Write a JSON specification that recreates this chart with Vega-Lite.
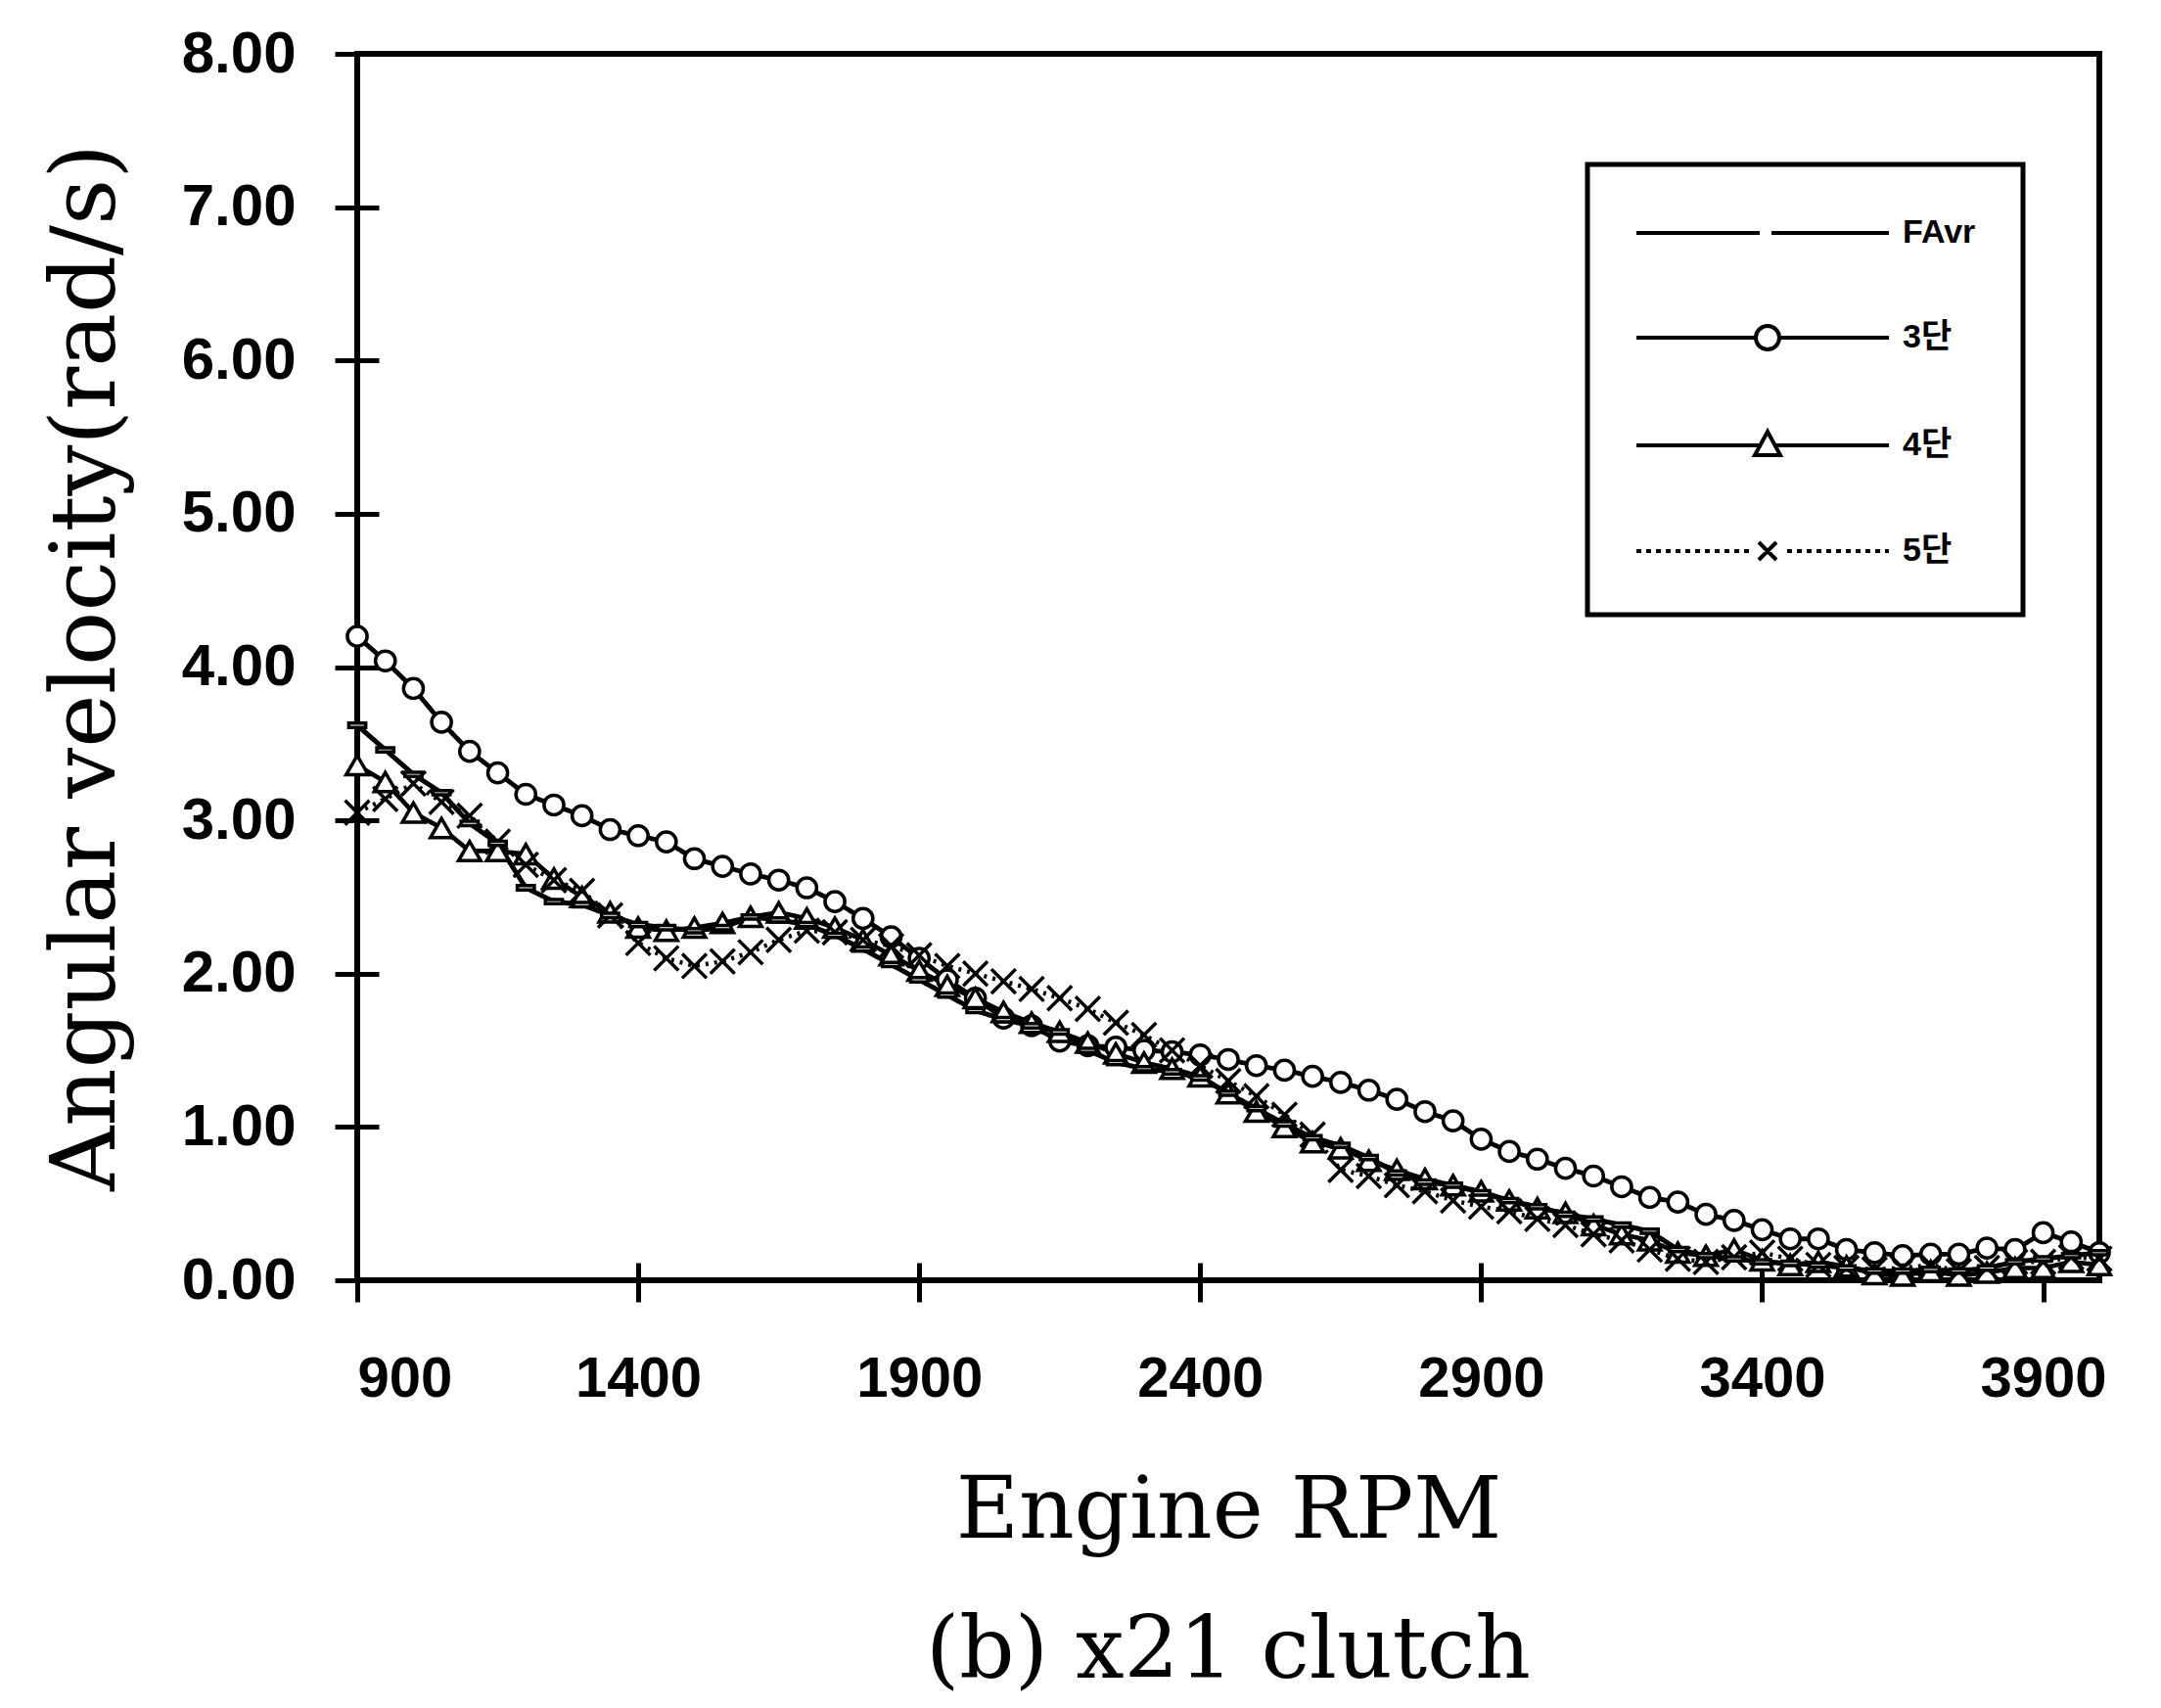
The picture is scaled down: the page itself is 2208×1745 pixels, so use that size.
{
  "$schema": "https://vega.github.io/schema/vega-lite/v6.json",
  "autosize": {"type": "none"},
  "width": 1780,
  "height": 1253,
  "padding": {"left": 365, "top": 55, "right": 63, "bottom": 437},
  "background": "white",
  "title": {"text": "(b) x21 clutch", "orient": "bottom", "font": "DejaVu Serif", "fontSize": 88, "fontWeight": "normal", "color": "black", "offset": 56},
  "config": {"view": {"stroke": "black", "strokeWidth": 6}, "legend": {"strokeWidth": 5}},
  "data": {"values": [
    {"series":"3단","rpm":900,"omega":4.20},{"series":"3단","rpm":950,"omega":4.04},{"series":"3단","rpm":1000,"omega":3.86},{"series":"3단","rpm":1050,"omega":3.64},{"series":"3단","rpm":1100,"omega":3.45},{"series":"3단","rpm":1150,"omega":3.31},{"series":"3단","rpm":1200,"omega":3.17},{"series":"3단","rpm":1250,"omega":3.10},{"series":"3단","rpm":1300,"omega":3.03},{"series":"3단","rpm":1350,"omega":2.94},{"series":"3단","rpm":1400,"omega":2.90},{"series":"3단","rpm":1450,"omega":2.86},{"series":"3단","rpm":1500,"omega":2.75},{"series":"3단","rpm":1550,"omega":2.70},{"series":"3단","rpm":1600,"omega":2.65},{"series":"3단","rpm":1650,"omega":2.61},{"series":"3단","rpm":1700,"omega":2.56},{"series":"3단","rpm":1750,"omega":2.47},{"series":"3단","rpm":1800,"omega":2.36},{"series":"3단","rpm":1850,"omega":2.24},{"series":"3단","rpm":1900,"omega":2.10},{"series":"3단","rpm":1950,"omega":1.96},{"series":"3단","rpm":2000,"omega":1.84},{"series":"3단","rpm":2050,"omega":1.71},{"series":"3단","rpm":2100,"omega":1.66},{"series":"3단","rpm":2150,"omega":1.56},{"series":"3단","rpm":2200,"omega":1.53},{"series":"3단","rpm":2250,"omega":1.52},{"series":"3단","rpm":2300,"omega":1.50},{"series":"3단","rpm":2350,"omega":1.49},{"series":"3단","rpm":2400,"omega":1.47},{"series":"3단","rpm":2450,"omega":1.44},{"series":"3단","rpm":2500,"omega":1.40},{"series":"3단","rpm":2550,"omega":1.37},{"series":"3단","rpm":2600,"omega":1.33},{"series":"3단","rpm":2650,"omega":1.29},{"series":"3단","rpm":2700,"omega":1.24},{"series":"3단","rpm":2750,"omega":1.18},{"series":"3단","rpm":2800,"omega":1.10},{"series":"3단","rpm":2850,"omega":1.04},{"series":"3단","rpm":2900,"omega":0.92},{"series":"3단","rpm":2950,"omega":0.84},{"series":"3단","rpm":3000,"omega":0.79},{"series":"3단","rpm":3050,"omega":0.73},{"series":"3단","rpm":3100,"omega":0.68},{"series":"3단","rpm":3150,"omega":0.61},{"series":"3단","rpm":3200,"omega":0.54},{"series":"3단","rpm":3250,"omega":0.51},{"series":"3단","rpm":3300,"omega":0.43},{"series":"3단","rpm":3350,"omega":0.39},{"series":"3단","rpm":3400,"omega":0.33},{"series":"3단","rpm":3450,"omega":0.27},{"series":"3단","rpm":3500,"omega":0.27},{"series":"3단","rpm":3550,"omega":0.20},{"series":"3단","rpm":3600,"omega":0.18},{"series":"3단","rpm":3650,"omega":0.16},{"series":"3단","rpm":3700,"omega":0.17},{"series":"3단","rpm":3750,"omega":0.17},{"series":"3단","rpm":3800,"omega":0.21},{"series":"3단","rpm":3850,"omega":0.20},{"series":"3단","rpm":3900,"omega":0.31},{"series":"3단","rpm":3950,"omega":0.25},{"series":"3단","rpm":4000,"omega":0.18},
    {"series":"4단","rpm":900,"omega":3.36},{"series":"4단","rpm":950,"omega":3.25},{"series":"4단","rpm":1000,"omega":3.05},{"series":"4단","rpm":1050,"omega":2.95},{"series":"4단","rpm":1100,"omega":2.80},{"series":"4단","rpm":1150,"omega":2.80},{"series":"4단","rpm":1200,"omega":2.78},{"series":"4단","rpm":1250,"omega":2.62},{"series":"4단","rpm":1300,"omega":2.50},{"series":"4단","rpm":1350,"omega":2.40},{"series":"4단","rpm":1400,"omega":2.30},{"series":"4단","rpm":1450,"omega":2.28},{"series":"4단","rpm":1500,"omega":2.30},{"series":"4단","rpm":1550,"omega":2.33},{"series":"4단","rpm":1600,"omega":2.37},{"series":"4단","rpm":1650,"omega":2.40},{"series":"4단","rpm":1700,"omega":2.36},{"series":"4단","rpm":1750,"omega":2.30},{"series":"4단","rpm":1800,"omega":2.22},{"series":"4단","rpm":1850,"omega":2.12},{"series":"4단","rpm":1900,"omega":2.02},{"series":"4단","rpm":1950,"omega":1.92},{"series":"4단","rpm":2000,"omega":1.84},{"series":"4단","rpm":2050,"omega":1.75},{"series":"4단","rpm":2100,"omega":1.68},{"series":"4단","rpm":2150,"omega":1.62},{"series":"4단","rpm":2200,"omega":1.55},{"series":"4단","rpm":2250,"omega":1.48},{"series":"4단","rpm":2300,"omega":1.42},{"series":"4단","rpm":2350,"omega":1.38},{"series":"4단","rpm":2400,"omega":1.33},{"series":"4단","rpm":2450,"omega":1.22},{"series":"4단","rpm":2500,"omega":1.10},{"series":"4단","rpm":2550,"omega":1.00},{"series":"4단","rpm":2600,"omega":0.90},{"series":"4단","rpm":2650,"omega":0.86},{"series":"4단","rpm":2700,"omega":0.78},{"series":"4단","rpm":2750,"omega":0.72},{"series":"4단","rpm":2800,"omega":0.66},{"series":"4단","rpm":2850,"omega":0.62},{"series":"4단","rpm":2900,"omega":0.58},{"series":"4단","rpm":2950,"omega":0.52},{"series":"4단","rpm":3000,"omega":0.47},{"series":"4단","rpm":3050,"omega":0.44},{"series":"4단","rpm":3100,"omega":0.36},{"series":"4단","rpm":3150,"omega":0.30},{"series":"4단","rpm":3200,"omega":0.26},{"series":"4단","rpm":3250,"omega":0.18},{"series":"4단","rpm":3300,"omega":0.16},{"series":"4단","rpm":3350,"omega":0.20},{"series":"4단","rpm":3400,"omega":0.13},{"series":"4단","rpm":3450,"omega":0.10},{"series":"4단","rpm":3500,"omega":0.12},{"series":"4단","rpm":3550,"omega":0.09},{"series":"4단","rpm":3600,"omega":0.04},{"series":"4단","rpm":3650,"omega":0.03},{"series":"4단","rpm":3700,"omega":0.06},{"series":"4단","rpm":3750,"omega":0.03},{"series":"4단","rpm":3800,"omega":0.05},{"series":"4단","rpm":3850,"omega":0.08},{"series":"4단","rpm":3900,"omega":0.08},{"series":"4단","rpm":3950,"omega":0.12},{"series":"4단","rpm":4000,"omega":0.10},
    {"series":"5단","rpm":900,"omega":3.05},{"series":"5단","rpm":950,"omega":3.14},{"series":"5단","rpm":1000,"omega":3.24},{"series":"5단","rpm":1050,"omega":3.12},{"series":"5단","rpm":1100,"omega":3.03},{"series":"5단","rpm":1150,"omega":2.86},{"series":"5단","rpm":1200,"omega":2.71},{"series":"5단","rpm":1250,"omega":2.61},{"series":"5단","rpm":1300,"omega":2.54},{"series":"5단","rpm":1350,"omega":2.38},{"series":"5단","rpm":1400,"omega":2.20},{"series":"5단","rpm":1450,"omega":2.10},{"series":"5단","rpm":1500,"omega":2.05},{"series":"5단","rpm":1550,"omega":2.08},{"series":"5단","rpm":1600,"omega":2.14},{"series":"5단","rpm":1650,"omega":2.22},{"series":"5단","rpm":1700,"omega":2.28},{"series":"5단","rpm":1750,"omega":2.27},{"series":"5단","rpm":1800,"omega":2.22},{"series":"5단","rpm":1850,"omega":2.18},{"series":"5단","rpm":1900,"omega":2.12},{"series":"5단","rpm":1950,"omega":2.05},{"series":"5단","rpm":2000,"omega":2.00},{"series":"5단","rpm":2050,"omega":1.95},{"series":"5단","rpm":2100,"omega":1.90},{"series":"5단","rpm":2150,"omega":1.84},{"series":"5단","rpm":2200,"omega":1.77},{"series":"5단","rpm":2250,"omega":1.68},{"series":"5단","rpm":2300,"omega":1.60},{"series":"5단","rpm":2350,"omega":1.50},{"series":"5단","rpm":2400,"omega":1.40},{"series":"5단","rpm":2450,"omega":1.30},{"series":"5단","rpm":2500,"omega":1.20},{"series":"5단","rpm":2550,"omega":1.08},{"series":"5단","rpm":2600,"omega":0.95},{"series":"5단","rpm":2650,"omega":0.72},{"series":"5단","rpm":2700,"omega":0.68},{"series":"5단","rpm":2750,"omega":0.62},{"series":"5단","rpm":2800,"omega":0.58},{"series":"5단","rpm":2850,"omega":0.52},{"series":"5단","rpm":2900,"omega":0.48},{"series":"5단","rpm":2950,"omega":0.45},{"series":"5단","rpm":3000,"omega":0.40},{"series":"5단","rpm":3050,"omega":0.36},{"series":"5단","rpm":3100,"omega":0.30},{"series":"5단","rpm":3150,"omega":0.26},{"series":"5단","rpm":3200,"omega":0.20},{"series":"5단","rpm":3250,"omega":0.14},{"series":"5단","rpm":3300,"omega":0.12},{"series":"5단","rpm":3350,"omega":0.15},{"series":"5단","rpm":3400,"omega":0.18},{"series":"5단","rpm":3450,"omega":0.14},{"series":"5단","rpm":3500,"omega":0.10},{"series":"5단","rpm":3550,"omega":0.08},{"series":"5단","rpm":3600,"omega":0.07},{"series":"5단","rpm":3650,"omega":0.08},{"series":"5단","rpm":3700,"omega":0.10},{"series":"5단","rpm":3750,"omega":0.06},{"series":"5단","rpm":3800,"omega":0.08},{"series":"5단","rpm":3850,"omega":0.12},{"series":"5단","rpm":3900,"omega":0.12},{"series":"5단","rpm":3950,"omega":0.15},{"series":"5단","rpm":4000,"omega":0.14},
    {"series":"FAvr","rpm":900,"omega":3.62},{"series":"FAvr","rpm":950,"omega":3.46},{"series":"FAvr","rpm":1000,"omega":3.30},{"series":"FAvr","rpm":1050,"omega":3.18},{"series":"FAvr","rpm":1100,"omega":2.98},{"series":"FAvr","rpm":1150,"omega":2.85},{"series":"FAvr","rpm":1200,"omega":2.56},{"series":"FAvr","rpm":1250,"omega":2.47},{"series":"FAvr","rpm":1300,"omega":2.45},{"series":"FAvr","rpm":1350,"omega":2.38},{"series":"FAvr","rpm":1400,"omega":2.32},{"series":"FAvr","rpm":1450,"omega":2.30},{"series":"FAvr","rpm":1500,"omega":2.28},{"series":"FAvr","rpm":1550,"omega":2.30},{"series":"FAvr","rpm":1600,"omega":2.37},{"series":"FAvr","rpm":1650,"omega":2.35},{"series":"FAvr","rpm":1700,"omega":2.32},{"series":"FAvr","rpm":1750,"omega":2.25},{"series":"FAvr","rpm":1800,"omega":2.16},{"series":"FAvr","rpm":1850,"omega":2.06},{"series":"FAvr","rpm":1900,"omega":1.96},{"series":"FAvr","rpm":1950,"omega":1.86},{"series":"FAvr","rpm":2000,"omega":1.76},{"series":"FAvr","rpm":2050,"omega":1.70},{"series":"FAvr","rpm":2100,"omega":1.66},{"series":"FAvr","rpm":2150,"omega":1.62},{"series":"FAvr","rpm":2200,"omega":1.50},{"series":"FAvr","rpm":2250,"omega":1.42},{"series":"FAvr","rpm":2300,"omega":1.38},{"series":"FAvr","rpm":2350,"omega":1.36},{"series":"FAvr","rpm":2400,"omega":1.32},{"series":"FAvr","rpm":2450,"omega":1.22},{"series":"FAvr","rpm":2500,"omega":1.12},{"series":"FAvr","rpm":2550,"omega":1.02},{"series":"FAvr","rpm":2600,"omega":0.93},{"series":"FAvr","rpm":2650,"omega":0.88},{"series":"FAvr","rpm":2700,"omega":0.80},{"series":"FAvr","rpm":2750,"omega":0.70},{"series":"FAvr","rpm":2800,"omega":0.64},{"series":"FAvr","rpm":2850,"omega":0.62},{"series":"FAvr","rpm":2900,"omega":0.57},{"series":"FAvr","rpm":2950,"omega":0.52},{"series":"FAvr","rpm":3000,"omega":0.48},{"series":"FAvr","rpm":3050,"omega":0.43},{"series":"FAvr","rpm":3100,"omega":0.40},{"series":"FAvr","rpm":3150,"omega":0.36},{"series":"FAvr","rpm":3200,"omega":0.32},{"series":"FAvr","rpm":3250,"omega":0.20},{"series":"FAvr","rpm":3300,"omega":0.16},{"series":"FAvr","rpm":3350,"omega":0.14},{"series":"FAvr","rpm":3400,"omega":0.12},{"series":"FAvr","rpm":3450,"omega":0.11},{"series":"FAvr","rpm":3500,"omega":0.10},{"series":"FAvr","rpm":3550,"omega":0.08},{"series":"FAvr","rpm":3600,"omega":0.06},{"series":"FAvr","rpm":3650,"omega":0.06},{"series":"FAvr","rpm":3700,"omega":0.07},{"series":"FAvr","rpm":3750,"omega":0.06},{"series":"FAvr","rpm":3800,"omega":0.08},{"series":"FAvr","rpm":3850,"omega":0.12},{"series":"FAvr","rpm":3900,"omega":0.14},{"series":"FAvr","rpm":3950,"omega":0.16},{"series":"FAvr","rpm":4000,"omega":0.18}
  ]},
  "encoding": {
    "x": {"field": "rpm", "type": "quantitative",
      "scale": {"domain": [900, 4000], "nice": false, "zero": false},
      "axis": {"title": "Engine RPM", "values": [900,1400,1900,2400,2900,3400,3900], "format": "d", "grid": false, "domain": false,
        "offset": -18, "tickSize": 40, "tickWidth": 5, "tickColor": "black",
        "labelFont": "Liberation Sans", "labelFontWeight": "bold", "labelFontSize": 58, "labelColor": "black", "labelPadding": 50,
        "titleFont": "DejaVu Serif", "titleFontWeight": "normal", "titleFontSize": 88, "titleColor": "black", "titlePadding": 62}},
    "y": {"field": "omega", "type": "quantitative",
      "scale": {"domain": [0, 8], "nice": false},
      "axis": {"title": "Angular velocity(rad/s)", "values": [0,1,2,3,4,5,6,7,8], "format": ".2f", "grid": false, "domain": false,
        "offset": -22, "tickSize": 45, "tickWidth": 5, "tickColor": "black",
        "labelFont": "Liberation Sans", "labelFontWeight": "bold", "labelFontSize": 60, "labelColor": "black", "labelPadding": 40,
        "titleFont": "DejaVu Serif", "titleFontWeight": "normal", "titleFontSize": 92, "titleColor": "black", "titlePadding": 52}}
  },
  "layer": [
    {
      "mark": {"type": "line", "color": "black", "clip": true},
      "encoding": {
        "detail": {"field": "series"},
        "strokeDash": {"field": "series", "type": "nominal", "legend": null,
          "scale": {"domain": ["FAvr","3단","4단","5단"], "range": [[1,0],[1,0],[1,0],[3,6]]}},
        "strokeWidth": {"field": "series", "type": "nominal", "legend": null,
          "scale": {"domain": ["FAvr","3단","4단","5단"], "range": [5,4.5,2.5,3]}}
      }
    },
    {
      "mark": {"type": "point", "filled": false, "fill": "white", "fillOpacity": 1, "stroke": "black", "strokeWidth": 3.5, "opacity": 1},
      "encoding": {
        "shape": {"field": "series", "type": "nominal", "legend": null,
          "scale": {"domain": ["FAvr","3단","4단","5단"], "range": ["M-1,-0.25H1V0.25H-1Z", "circle", "triangle-up", "M-1,-1L1,1M-1,1L1,-1"]}},
        "size": {"field": "series", "type": "nominal", "legend": null,
          "scale": {"domain": ["FAvr","3단","4단","5단"], "range": [300, 620, 620, 420]}}
      }
    },
    {
      "mark": {"type": "point", "opacity": 0},
      "encoding": {
        "shape": {"field": "series", "type": "nominal",
          "scale": {"domain": ["FAvr","3단","4단","5단"], "range": [
            "M-1,0H5.3M5.9,0H11.9",
            "M-1,0H5.1M6.3,0H11.9M6.3,0A0.6,0.6 0 1 1 5.1,0A0.6,0.6 0 1 1 6.3,0",
            "M-1,0H5.32M6.08,0H11.9M5.7,-0.7L6.35,0.5L5.05,0.5Z",
            "M-1,0h0.25M-0.5,0h0.25M0,0h0.25M0.5,0h0.25M1,0h0.25M1.5,0h0.25M2,0h0.25M2.5,0h0.25M3,0h0.25M3.5,0h0.25M4,0h0.25M4.5,0h0.25M5.25,-0.45L6.15,0.45M5.25,0.45L6.15,-0.45M6.7,0h0.25M7.2,0h0.25M7.7,0h0.25M8.2,0h0.25M8.7,0h0.25M9.2,0h0.25M9.7,0h0.25M10.2,0h0.25M10.7,0h0.25M11.2,0h0.25M11.7,0h0.2"
          ]},
          "legend": {"title": null, "orient": "none", "legendX": 1257, "legendY": 113,
            "symbolSize": 1600, "symbolStrokeWidth": 4, "symbolStrokeColor": "black", "symbolFillColor": "white", "symbolOpacity": 1,
            "labelFont": "Liberation Sans, Noto Sans CJK KR", "labelFontWeight": "bold", "labelFontSize": 34, "labelColor": "black",
            "labelOffset": 230, "rowPadding": 68, "padding": 48, "strokeColor": "black", "fillColor": "white"}
        }
      }
    }
  ],
  "resolve": {"scale": {"shape": "independent", "size": "independent", "strokeDash": "independent", "strokeWidth": "independent"}, "legend": {"shape": "independent"}}
}
